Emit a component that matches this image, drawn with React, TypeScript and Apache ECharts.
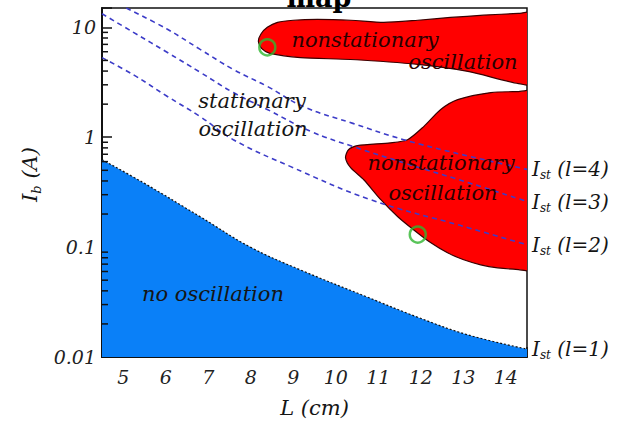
import React, { useEffect, useRef } from "react";
import * as echarts from "echarts";

// ---- axis ranges / ticks ----
const xMin = 4.5;
const xMax = 14.5;
const yMin = 0.01;
const yMax = 15;
const yMinorTicks = [0.02, 0.03, 0.04, 0.05, 0.06, 0.07, 0.08, 0.09, 0.2, 0.3, 0.4, 0.5, 0.6, 0.7, 0.8, 0.9, 2, 3, 4, 5, 6, 7, 8, 9];

// ---- no oscillation boundary (I_st, l=1) ----
const noOscL = [4.5, 5.47, 6.81, 7.99, 9.17, 10.75, 11.93, 13.11, 14.5];
const noOscI = [0.625, 0.386, 0.189, 0.1, 0.062, 0.035, 0.023, 0.0159, 0.0118];

// ---- I_st threshold lines ----
const ist4L = [5.07, 6.04, 6.81, 7.59, 8.39, 9.24, 10.42, 11.6, 12.94, 14.5];
const ist4I = [15, 9.6, 6.3, 4.14, 2.9, 1.9, 1.33, 0.95, 0.7, 0.51];
const ist3L = [4.5, 5.24, 6.04, 6.81, 7.59, 8.39, 9.41, 10.42, 11.76, 13.18, 14.5];
const ist3I = [13.3, 9.0, 5.9, 3.9, 2.55, 1.79, 1.13, 0.82, 0.56, 0.38, 0.26];
const ist2L = [4.5, 5.24, 6.04, 6.81, 7.59, 8.94, 10.82, 12.94, 14.5];
const ist2I = [5.3, 3.7, 2.35, 1.54, 0.95, 0.54, 0.27, 0.157, 0.105];

// ---- nonstationary regions (outlines) ----
const upperL = [8.18, 8.24, 8.39, 8.63, 9.0, 9.57, 10.35, 11.13, 11.93, 12.7, 13.48, 14.3, 15, 15, 14.3, 13.11, 11.93, 10.35, 9.17, 8.45, 8.26];
const upperI = [7.45, 8.7, 10.0, 11.1, 11.6, 11.8, 11.6, 11.1, 11.6, 12.3, 12.9, 13.4, 13.8, 3.0, 3.08, 3.97, 4.6, 5.1, 5.3, 5.8, 6.4];
const lowerL = [15, 14.3, 13.65, 12.87, 12.47, 12.07, 11.69, 11.29, 10.51, 10.3, 10.23, 10.35, 10.66, 11.06, 11.46, 11.83, 12.23, 12.63, 13.01, 13.41, 13.81, 14.3, 15];
const lowerI = [2.62, 2.6, 2.55, 2.2, 1.79, 1.25, 0.95, 0.89, 0.84, 0.77, 0.653, 0.528, 0.41, 0.27, 0.189, 0.144, 0.11, 0.0888, 0.0767, 0.069, 0.0648, 0.0625, 0.061];

// ---- marked points (green circles) ----
const markL = [8.39, 11.93];
const markI = [6.58, 0.13];

// ---- texts ----
const titleText = "map";
const xName = "L (cm)";
const endLabels = ["(l=1)", "(l=2)", "(l=3)", "(l=4)"];

const FONT = '"DejaVu Serif", "Liberation Serif", serif';
const INK = "#151515";

const pairs = (xs: number[], ys: number[]) => xs.map((x, i) => [x, ys[i]]);

const subRich = (size: number, sub: number) => ({
  i: { fontFamily: FONT, fontStyle: "italic", fontSize: size, color: INK, lineHeight: size + 4 },
  s: { fontFamily: FONT, fontStyle: "italic", fontSize: sub, color: INK, lineHeight: sub, verticalAlign: "bottom" },
  t: { fontFamily: FONT, fontStyle: "italic", fontSize: size, color: INK, lineHeight: size + 4 },
});

const endLabel = (txt: string) => ({
  show: true,
  distance: 5,
  formatter: `{i|I}{s|st}{t| ${txt}}`,
  rich: subRich(20, 12),
});

const polygonSeries = (xs: number[], ys: number[], name: string) => ({
  type: "custom",
  name,
  clip: true,
  z: 3,
  data: [[xs[0], ys[0]]],
  encode: { x: 0, y: 1 },
  renderItem: (params: any, api: any) => {
    const pts = xs.map((x, i) => api.coord([x, ys[i]]));
    return {
      type: "polygon",
      shape: { points: pts, smooth: 0.25 },
      style: { fill: "#ff0000", stroke: "#3a0000", lineWidth: 1.2 },
    };
  },
});

const regionText = (text: string, x: number, y: number, fill: string) => ({
  type: "text",
  x,
  y,
  z: 100,
  style: {
    text,
    fill,
    font: `italic 21px ${FONT}`,
    textAlign: "center",
    align: "center",
    textVerticalAlign: "middle",
    verticalAlign: "middle",
  },
});

export default function App() {
  const ref = useRef<HTMLDivElement>(null);
  useEffect(() => {
    if (!ref.current) return;
    const chart = echarts.init(ref.current, undefined, { renderer: "svg" });
    const dashed = (xs: number[], ys: number[], lbl: string) => ({
      type: "line",
      data: pairs(xs, ys),
      smooth: 0.4,
      symbol: "none",
      z: 5,
      lineStyle: { color: "#3c3cc8", width: 1.6, type: [5, 4] },
      endLabel: endLabel(lbl),
    });
    const option: any = {
      animation: false,
      backgroundColor: "#ffffff",
      grid: {
        left: 102,
        right: 99,
        top: 8,
        bottom: 69,
        show: true,
        borderColor: "#111",
        borderWidth: 1.5,
        backgroundColor: "transparent",
      },
      graphic: [
        {
          type: "text",
          x: 319,
          y: 11,
          z: 100,
          style: {
            text: titleText,
            fill: "#000",
            font: `bold 27px ${FONT}`,
            textAlign: "center",
            align: "center",
            textVerticalAlign: "bottom",
            verticalAlign: "bottom",
          },
        },
        regionText("stationary", 252, 101, INK),
        regionText("oscillation", 253, 129, INK),
        regionText("no oscillation", 213, 294, INK),
        regionText("nonstationary", 365, 40, "#2a0000"),
        regionText("oscillation", 463, 62, "#2a0000"),
        regionText("nonstationary", 441, 163, "#2a0000"),
        regionText("oscillation", 443, 193, "#2a0000"),
      ],
      xAxis: {
        type: "value",
        min: xMin,
        max: xMax,
        splitNumber: 10,
        name: xName,
        nameLocation: "middle",
        nameGap: 40,
        nameTextStyle: { fontFamily: FONT, fontStyle: "italic", fontSize: 21, color: INK },
        axisLine: { show: true, lineStyle: { color: "#111", width: 2 } },
        axisTick: { show: true, inside: true, length: 10, lineStyle: { color: "#111", width: 1.5 } },
        minorTick: { show: true, splitNumber: 2, length: 6, lineStyle: { color: "#111", width: 1.5 } },
        splitLine: { show: false },
        axisLabel: {
          interval: 0,
          margin: 10,
          fontFamily: FONT,
          fontStyle: "italic",
          fontSize: 19,
          color: "#222",
          formatter: (v: number) => (Math.abs(v - Math.round(v)) < 1e-9 ? String(Math.round(v)) : ""),
        },
      },
      yAxis: {
        type: "log",
        logBase: 10,
        min: yMin,
        max: yMax,
        name: "{i|I}{s|b}{t| (A)}",
        nameLocation: "middle",
        nameRotate: 90,
        nameGap: 56,
        nameTextStyle: { rich: subRich(21, 13), padding: [0, 0, 0, 16] },
        axisLine: { show: true, lineStyle: { color: "#111", width: 2 } },
        axisTick: { show: true, inside: true, length: 10, lineStyle: { color: "#111", width: 1.5 } },
        minorTick: { show: false },
        splitLine: { show: false },
        axisLabel: {
          margin: 6,
          fontFamily: FONT,
          fontStyle: "italic",
          fontSize: 19,
          color: "#222",
          formatter: (v: number) => {
            const l = Math.log10(v);
            return Math.abs(l - Math.round(l)) < 1e-6 ? String(v) : "";
          },
        },
      },
      series: [
        {
          type: "line",
          name: "no oscillation",
          data: pairs(noOscL, noOscI),
          smooth: 0.4,
          symbol: "none",
          z: 2,
          lineStyle: { color: "#111", width: 1.2, type: [2, 2] },
          areaStyle: { color: "#0a80f8", opacity: 1, origin: "start" },
          endLabel: endLabel(endLabels[0]),
        },
        polygonSeries(upperL, upperI, "nonstationary upper"),
        polygonSeries(lowerL, lowerI, "nonstationary lower"),
        dashed(ist2L, ist2I, endLabels[1]),
        dashed(ist3L, ist3I, endLabels[2]),
        dashed(ist4L, ist4I, endLabels[3]),
        {
          type: "scatter",
          name: "marks",
          data: pairs(markL, markI),
          symbol: "circle",
          symbolSize: 16,
          z: 8,
          itemStyle: { color: "rgba(0,0,0,0)", borderColor: "#2fb52f", borderWidth: 2.5 },
        },
        {
          type: "custom",
          name: "minor ticks",
          clip: false,
          z: 9,
          data: yMinorTicks.map((v) => [xMin, v]),
          encode: { x: 0, y: 1 },
          renderItem: (params: any, api: any) => {
            const p = api.coord([api.value(0), api.value(1)]);
            return {
              type: "line",
              shape: { x1: p[0], y1: p[1], x2: p[0] + 6, y2: p[1] },
              style: { stroke: "#111", lineWidth: 1.5 },
            };
          },
        },
      ],
    };
    chart.setOption(option);
    return () => chart.dispose();
  }, []);
  return <div ref={ref} style={{ position: "fixed", left: 0, top: 0, width: 626, height: 426 }} />;
}
